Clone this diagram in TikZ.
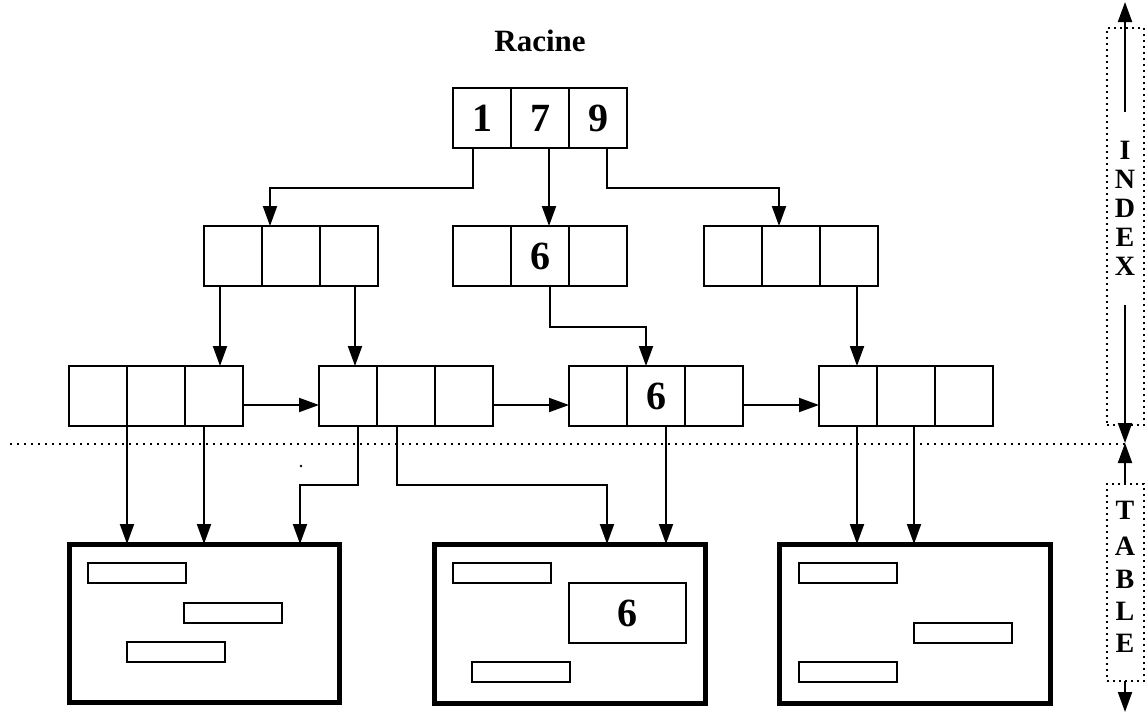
\documentclass[tikz,border=0pt]{standalone}
\usepackage{fontspec}
\setmainfont{Liberation Serif}
\usetikzlibrary{arrows.meta,calc}
\begin{document}
\begin{tikzpicture}[x=1pt,y=-1pt,
  cell/.style={draw,line width=2pt,minimum width=58pt,minimum height=60pt,inner sep=0pt,outer sep=0pt,anchor=north west,font=\fontsize{40}{40}\selectfont\bfseries},
  arr/.style={-{Triangle[length=20pt,width=14pt]},line width=2pt},
  tbl/.style={draw,line width=5pt,inner sep=0pt,outer sep=0pt,anchor=north west},
  rec/.style={draw,line width=2.5pt,inner sep=0pt,outer sep=0pt,anchor=north west,minimum width=98pt,minimum height=20pt},
  lbl/.style={font=\fontsize{28}{28}\selectfont\bfseries,inner sep=0pt,text height=19pt,text depth=0pt},
  dotbox/.style={draw,line width=2pt,dash pattern=on 2pt off 4pt,inner sep=0pt,outer sep=0pt,anchor=north west}
]
\useasboundingbox (0,0) rectangle (1147,713);

% title
\node[font=\fontsize{31}{31}\selectfont\bfseries] (title) at (540,41) {Racine};

% root
\node[cell] (r1) at (453,88) {1};
\node[cell] (r2) at (511,88) {7};
\node[cell] (r3) at (569,88) {9};

% level 2
\node[cell] (a1) at (204,226) {};
\node[cell] (a2) at (262,226) {};
\node[cell] (a3) at (320,226) {};
\node[cell] (b1) at (453,226) {};
\node[cell] (b2) at (511,226) {6};
\node[cell] (b3) at (569,226) {};
\node[cell] (c1) at (704,226) {};
\node[cell] (c2) at (762,226) {};
\node[cell] (c3) at (820,226) {};

% leaves
\node[cell] (L1a) at (69,366) {};
\node[cell] (L1b) at (127,366) {};
\node[cell] (L1c) at (185,366) {};
\node[cell] (L2a) at (319,366) {};
\node[cell] (L2b) at (377,366) {};
\node[cell] (L2c) at (435,366) {};
\node[cell] (L3a) at (569,366) {};
\node[cell] (L3b) at (627,366) {6};
\node[cell] (L3c) at (685,366) {};
\node[cell] (L4a) at (819,366) {};
\node[cell] (L4b) at (877,366) {};
\node[cell] (L4c) at (935,366) {};

% tables
\node[tbl,minimum width=270pt,minimum height=158pt] (T1) at (69,544) {};
\node[tbl,minimum width=271pt,minimum height=159pt] (T2) at (434,544) {};
\node[tbl,minimum width=271pt,minimum height=159pt] (T3) at (779,544) {};

% records
\node[rec] (t1r1) at (88,563) {};
\node[rec] (t1r2) at (184,603) {};
\node[rec] (t1r3) at (127,642) {};
\node[rec] (t2r1) at (453,563) {};
\node[rec,minimum width=117pt,minimum height=60pt,font=\fontsize{40}{40}\selectfont\bfseries] (t2r2) at (569,583) {6};
\node[rec] (t2r3) at (472,662) {};
\node[rec] (t3r1) at (799,563) {};
\node[rec] (t3r2) at (914,623) {};
\node[rec] (t3r3) at (799,662) {};

% root connectors
\draw[arr] ([xshift=-9pt]r1.south) -- ++(0,40) -| ([xshift=-21pt]a2.north);
\draw[arr] ([xshift=9pt]r2.south) -- ([xshift=9pt]r2.south |- b2.north);
\draw[arr] ([xshift=9pt]r3.south) -- ++(0,40) -| ([xshift=-12pt]c2.north);

% level 2 -> leaves
\draw[arr] ([xshift=-13pt]a1.south) -- ([xshift=-13pt]a1.south |- L1c.north);
\draw[arr] ([xshift=6pt]a3.south) -- ([xshift=6pt]a3.south |- L2a.north);
\draw[arr] ([xshift=10pt]b2.south) -- ++(0,41) -| ([xshift=-10pt]L3b.north);
\draw[arr] ([xshift=8pt]c3.south) -- ([xshift=8pt]c3.south |- L4a.north);

% leaf chain
\draw[arr] ([yshift=-9pt]L1c.east) -- ([yshift=-9pt]L2a.west);
\draw[arr] ([yshift=-9pt]L2c.east) -- ([yshift=-9pt]L3a.west);
\draw[arr] ([yshift=-9pt]L3c.east) -- ([yshift=-9pt]L4a.west);

% leaves -> tables
\draw[arr] (L1b.south west) -- (L1b.south west |- T1.north);
\draw[arr] ([xshift=-10pt]L1c.south) -- ([xshift=-10pt]L1c.south |- T1.north);
\draw[arr] ([xshift=10pt]L2a.south) -- ++(0,59) -| ([xshift=96pt]T1.north);
\draw[arr] ([xshift=-9pt]L2b.south) -- ++(0,59) -| ([xshift=37.5pt]T2.north);
\draw[arr] ([xshift=10pt]L3b.south) -- ([xshift=10pt]L3b.south |- T2.north);
\draw[arr] ([xshift=9pt]L4a.south) -- ([xshift=9pt]L4a.south |- T3.north);
\draw[arr] ([xshift=8pt]L4b.south) -- ([xshift=8pt]L4b.south |- T3.north);

% stray dot
\fill (301,466) circle (1.3pt);

% separator
\coordinate (sepL) at (10,444);
\coordinate (sepR) at (1125,444);
\draw[line width=2pt,dash pattern=on 2pt off 5pt] (sepL) -- (sepR);

% right side: INDEX
\node[dotbox,minimum width=37pt,minimum height=397pt] (ibox) at (1107,28) {};
\coordinate (itop) at (1125,2);
\coordinate (ia) at (1125,112);
\coordinate (ib) at (1125,305);
\coordinate (imid) at (1125,443);
\draw[arr] (ia) -- (itop);
\draw[arr] (ib) -- (imid);
\node[lbl] (I1) at (1125,150) {I};
\node[lbl] (I2) at (1125,179) {N};
\node[lbl] (I3) at (1125,208) {D};
\node[lbl] (I4) at (1125,237) {E};
\node[lbl] (I5) at (1125,266) {X};

% right side: TABLE
\node[dotbox,minimum width=37pt,minimum height=197pt] (tbox) at (1107,484) {};
\coordinate (tbot) at (1125,712);
\draw[arr] (tbox.north -| imid) -- (imid);
\draw[arr] (tbox.south -| imid) -- (tbot);
\node[lbl] (J1) at (1125,510) {T};
\node[lbl] (J2) at (1125,546) {A};
\node[lbl] (J3) at (1125,579) {B};
\node[lbl] (J4) at (1125,611) {L};
\node[lbl] (J5) at (1125,643) {E};
\end{tikzpicture}
\end{document}
